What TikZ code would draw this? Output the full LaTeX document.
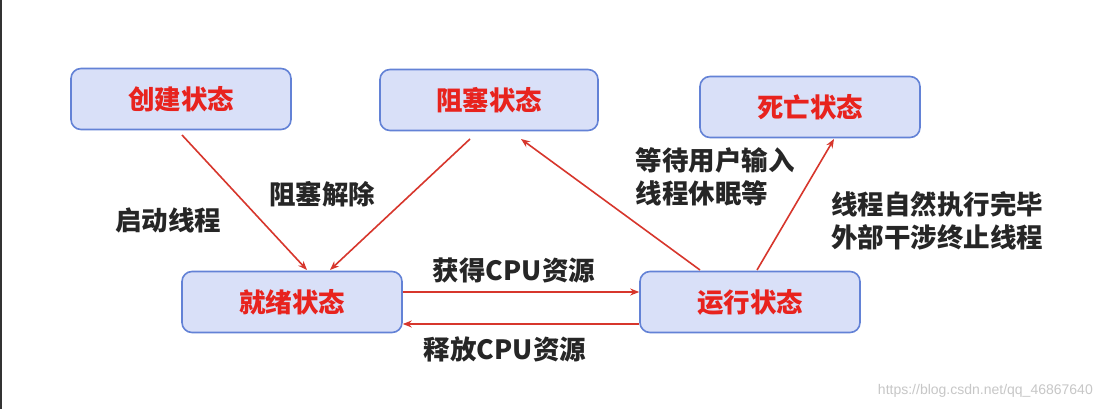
\documentclass[tikz,border=0pt]{standalone}
\usepackage{fontspec}
\newfontfamily\cjk{Noto Sans CJK SC}
\newfontfamily\wmfont{Liberation Sans}
\usetikzlibrary{arrows.meta}
\definecolor{boxfill}{HTML}{D9E0F8}
\definecolor{boxdraw}{HTML}{6382D6}
\definecolor{arr}{HTML}{D7362C}
\definecolor{txtred}{HTML}{E8231E}
\tikzset{
  state/.style={draw=boxdraw, line width=1.6pt, fill=boxfill, rounded corners=10pt,
    minimum width=220pt, minimum height=61pt, inner sep=0pt,
    font=\cjk\bfseries\fontsize{26.5}{30}\selectfont, text=txtred},
  conn/.style={draw=arr, line width=1.6pt, -{Stealth[length=9pt,width=7pt]}},
  lbl/.style={font=\cjk\bfseries\fontsize{26.5}{33}\selectfont, text=black!85, align=left, inner sep=0pt}
}
\begin{document}
\begin{tikzpicture}[x=1pt,y=-1pt]
\useasboundingbox (0,0) rectangle (1102,409);
\fill[white] (0,0) rectangle (1102,409);
\draw[black!80, line width=1.5pt] (0.75,0) -- (0.75,409);

\node[state] (create) at (181,99) {创建状态};
\node[state, minimum width=218pt] (block) at (489,100) {阻塞状态};
\node[state] (dead) at (810,107) {死亡状态};
\node[state] (ready) at (292,302) {就绪状态};
\node[state] (run) at (750,302) {运行状态};

\coordinate (c1) at (182,135);
\coordinate (r1) at (307,270);
\coordinate (b1) at (470,139);
\coordinate (r2) at (330,270);
\coordinate (u1) at (700,270);
\coordinate (b2) at (521,139);
\coordinate (u2) at (757,270);
\coordinate (d1) at (834,139);

\draw[conn] (c1) -- (r1);
\draw[conn] (b1) -- (r2);
\draw[conn] (u1) -- (b2);
\draw[conn] (u2) -- (d1);
\draw[conn] (ready.east |- 0,292) -- (run.west |- 0,292);
\draw[conn] (run.west |- 0,324) -- (ready.east |- 0,324);

\node[lbl] (l1) at (168,220) {启动线程};
\node[lbl] (l2) at (322,194) {阻塞解除};
\node[lbl] (l3) at (715,177) {等待用户输入\\线程休眠等};
\node[lbl] (l4) at (937,221) {线程自然执行完毕\\外部干涉终止线程};
\node[lbl] (l5) at (514,270) {获得CPU资源};
\node[lbl] (l6) at (505,349) {释放CPU资源};

\node[font=\wmfont\fontsize{14}{16}\selectfont, text=black!22, anchor=east, inner sep=0pt] (wm) at (1093,391) {https://blog.csdn.net/qq\_46867640};
\end{tikzpicture}
\end{document}
